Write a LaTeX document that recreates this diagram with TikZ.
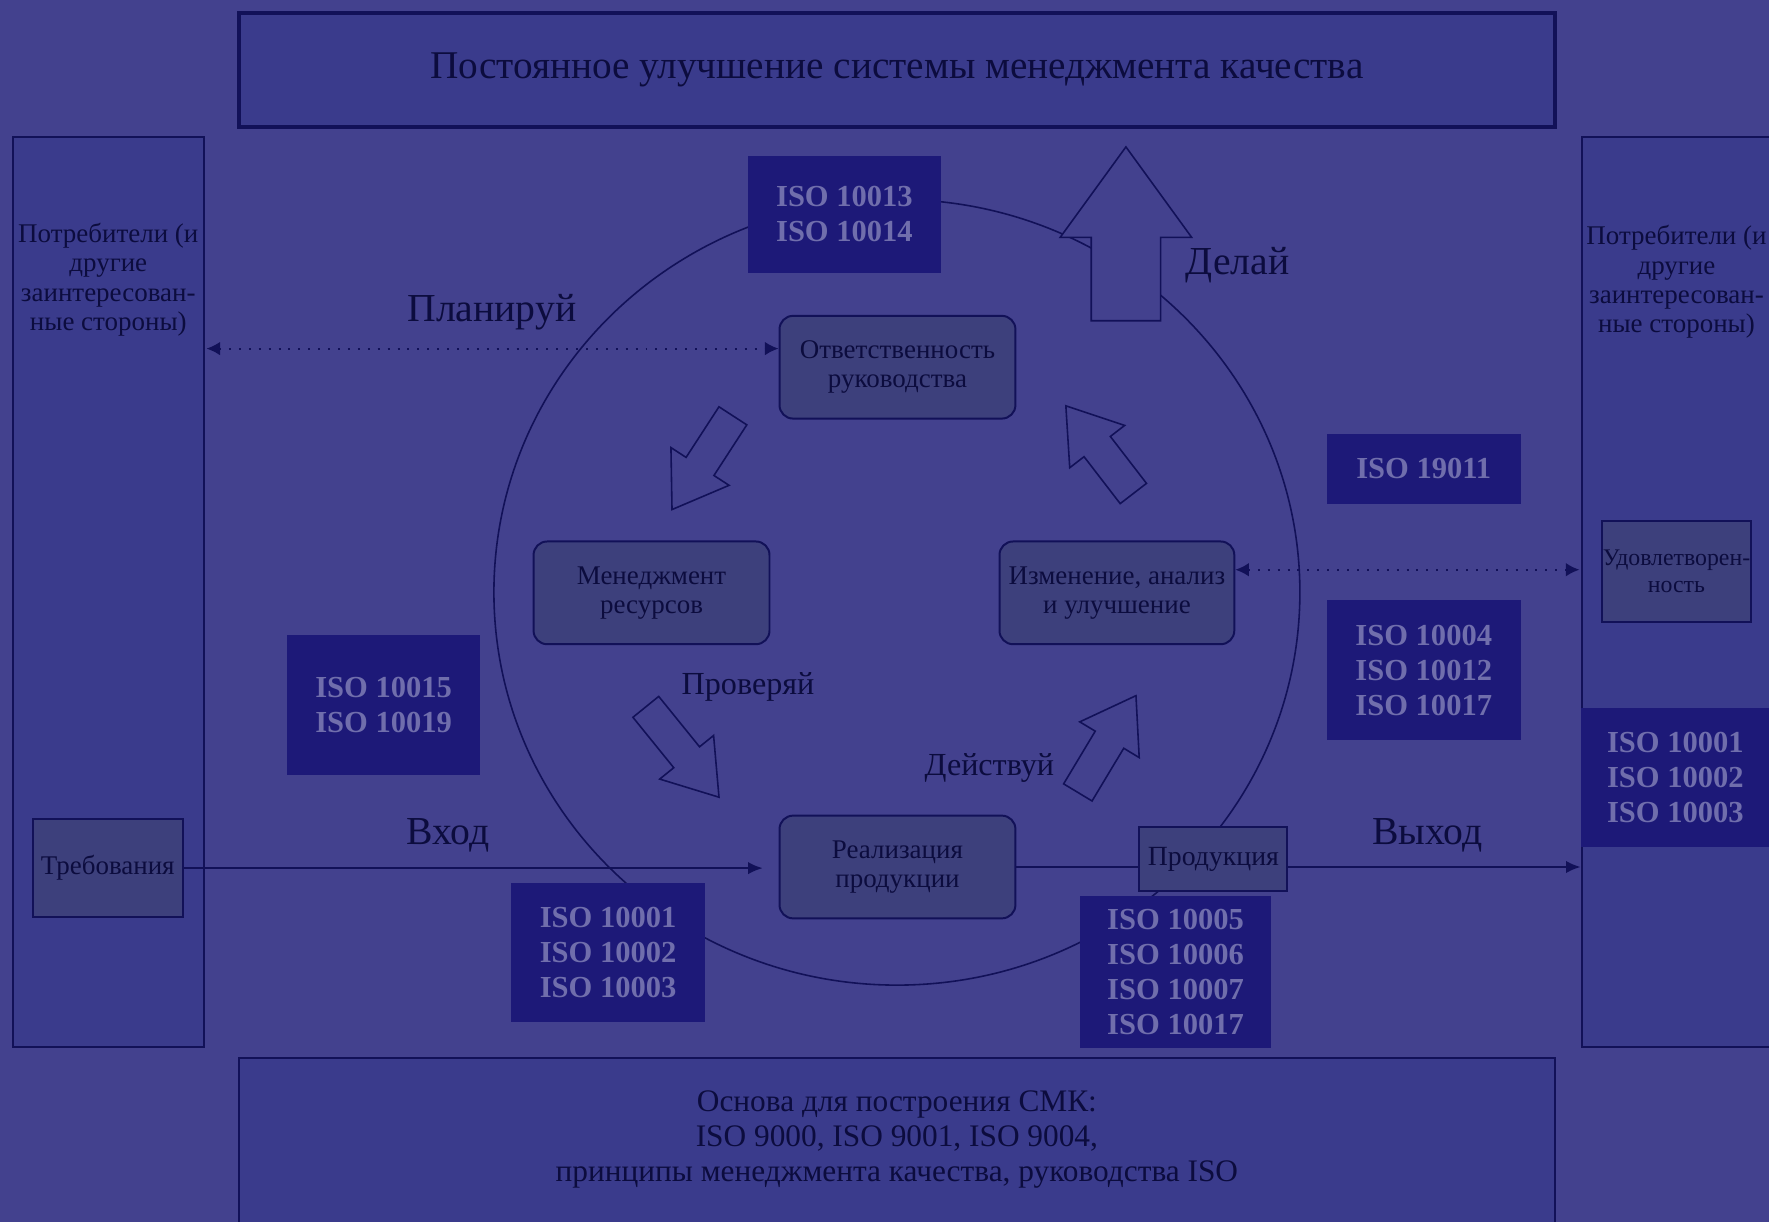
\documentclass[tikz,border=0pt]{standalone}
\usepackage{fontspec}
\setmainfont{Liberation Serif}
\usetikzlibrary{shapes.arrows,arrows.meta}

\definecolor{bgcol}{RGB}{67,65,142}
\definecolor{panelcol}{RGB}{58,59,140}
\definecolor{isocol}{RGB}{29,25,120}
\definecolor{isotext}{RGB}{112,110,172}
\definecolor{stepcol}{RGB}{61,64,124}
\definecolor{linecol}{RGB}{18,17,88}
\definecolor{inkcol}{RGB}{12,12,62}

\begin{document}
\begin{tikzpicture}[x=0.01cm,y=-0.01cm]
		\tikzstyle{every node}+=[inner sep=0pt, text=inkcol]
		\tikzstyle{panel}=[draw=linecol, fill=panelcol, line width=0.5pt]
		\tikzstyle{isobox}=[fill=isocol, draw=isocol, text=isotext, align=center, font=\fontsize{7.7}{8.8}\selectfont\bfseries]
		\tikzstyle{stepbox}=[draw=linecol, fill=stepcol, line width=0.5pt, rounded corners=0.12cm, minimum width=2.09cm, minimum height=0.91cm, align=center, font=\fontsize{6.8}{7.4}\selectfont]
		\tikzstyle{smallbox}=[draw=linecol, fill=stepcol, line width=0.5pt, align=center]
		\tikzstyle{phase}=[font=\fontsize{10}{12}\selectfont]
		\tikzstyle{hollow}=[single arrow, draw=linecol, line width=0.4pt, inner sep=0.14cm, single arrow head extend=0.16cm, single arrow tip angle=68, minimum height=1cm, anchor=tail]
		\tikzstyle{dotarr}=[draw=linecol, dotted, line width=0.5pt, {Latex[length=1.2mm,width=1.2mm]}-{Latex[length=1.2mm,width=1.2mm]}]
		\fill [bgcol] (0,0) rectangle (1568,1083);
		\useasboundingbox (0,0) rectangle (1568,1083);
		\clip (0,0) rectangle (1568,1083);
		% frame
		\node [panel, line width=0.9pt, minimum width=11.66cm, minimum height=1.01cm, font=\fontsize{9.9}{12}\selectfont] (improve) at (795,62) {Постоянное улучшение системы менеджмента качества};
		\node [panel, minimum width=1.69cm, minimum height=8.06cm] (cin) at (96.5,525) {};
		\node [panel, minimum width=1.68cm, minimum height=8.06cm] (cout) at (1486,525) {};
		\node [panel, minimum width=11.66cm, minimum height=1.8cm] (base) at (795,1028) {};
		\node [align=center, font=\fontsize{6.8}{7.4}\selectfont] (cintext) at (96,248) {Потребители (и\\другие\\заинтересован-\\ные стороны)};
		\node [align=center, font=\fontsize{6.8}{7.4}\selectfont] (couttext) at (1486,250) {Потребители (и\\другие\\заинтересован-\\ные стороны)};
		\node [align=center, font=\fontsize{7.9}{8.8}\selectfont] (basetext) at (795,1010) {Основа для построения СМК:\\ISO 9000, ISO 9001, ISO 9004,\\принципы менеджмента качества, руководства ISO};
		% cycle
		\draw [linecol, line width=0.4pt] (795,525) ellipse (3.57cm and 3.48cm);
		\node [isobox, minimum width=1.69cm, minimum height=1.02cm] (iso1314) at (748.5,190) {ISO 10013\\ISO 10014};
		\node [isobox, minimum width=1.70cm, minimum height=0.61cm] (iso19011) at (1262,415.5) {ISO 19011};
		\node [isobox, minimum width=1.70cm, minimum height=1.22cm] (iso4) at (1262,594) {ISO 10004\\ISO 10012\\ISO 10017};
		\node [isobox, minimum width=1.66cm, minimum height=1.22cm] (isoout) at (1485,689) {ISO 10001\\ISO 10002\\ISO 10003};
		\node [isobox, minimum width=1.70cm, minimum height=1.22cm] (iso1519) at (340,625) {ISO 10015\\ISO 10019};
		\node [isobox, minimum width=1.70cm, minimum height=1.22cm] (isoin) at (539,844) {ISO 10001\\ISO 10002\\ISO 10003};
		\node [isobox, minimum width=1.68cm, minimum height=1.33cm] (iso5) at (1042,861.5) {ISO 10005\\ISO 10006\\ISO 10007\\ISO 10017};
		\node [stepbox] (resp) at (795.5,325.5) {Ответственность\\руководства};
		\node [stepbox] (res) at (577.5,525.5) {Менеджмент\\ресурсов};
		\node [stepbox, minimum width=2.08cm] (meas) at (990,525.5) {Изменение, анализ\\и улучшение};
		\node [stepbox] (real) at (795.5,768.5) {Реализация\\продукции};
		\node [smallbox, minimum width=1.33cm, minimum height=0.87cm, font=\fontsize{6.8}{8}\selectfont] (req) at (95.5,769.5) {Требования};
		\node [smallbox, minimum width=1.31cm, minimum height=0.57cm, font=\fontsize{7}{8}\selectfont] (prod) at (1075.5,761.5) {Продукция};
		\node [smallbox, minimum width=1.32cm, minimum height=0.89cm, font=\fontsize{6}{6.6}\selectfont] (sat) at (1486,506.5) {Удовлетворен-\\ность};
		% block arrows
		\node [hollow, rotate=237, minimum height=0.99cm] (a1) at (650,368) {};
		\node [hollow, rotate=-51, minimum height=1.03cm] (a2) at (572,626) {};
		\node [hollow, rotate=59, minimum height=1cm] (a3) at (955,703) {};
		\node [hollow, rotate=127.6, minimum height=0.98cm] (a4) at (1005,438) {};
		\node [hollow, fill=bgcol, rotate=90, inner sep=0.3cm, single arrow head extend=0.275cm, single arrow tip angle=72, minimum height=1.54cm] (up) at (998,285) {};
		% labels
		\node [phase] (plan) at (436,277) {Планируй};
		\node [phase] (do) at (1097,235) {Делай};
		\node [font=\fontsize{8.1}{10}\selectfont] (check) at (663,609) {Проверяй};
		\node [font=\fontsize{8.1}{10}\selectfont] (act) at (877,681) {Действуй};
		\node [phase] (inlbl) at (397,740) {Вход};
		\node [phase] (outlbl) at (1265,740) {Выход};
		% connectors
		\coordinate (pl) at (183,309);
		\coordinate (fb) at (1400,505);
		\draw [dotarr] (pl) -- (resp.west |- pl);
		\draw [dotarr] (meas.east |- fb) -- (fb);
		\draw [linecol, line width=0.5pt, -{Latex[length=1.3mm,width=1.1mm]}, shorten >=1.4mm] (req.east) -- (req.east -| real.west);
		\draw [linecol, line width=0.5pt] (real.east) -- (real.east -| prod.west);
		\draw [linecol, line width=0.5pt, -{Latex[length=1.3mm,width=1.1mm]}] (prod.east |- real.east) -- (cout.west |- real.east);
	\end{tikzpicture}
\end{document}
